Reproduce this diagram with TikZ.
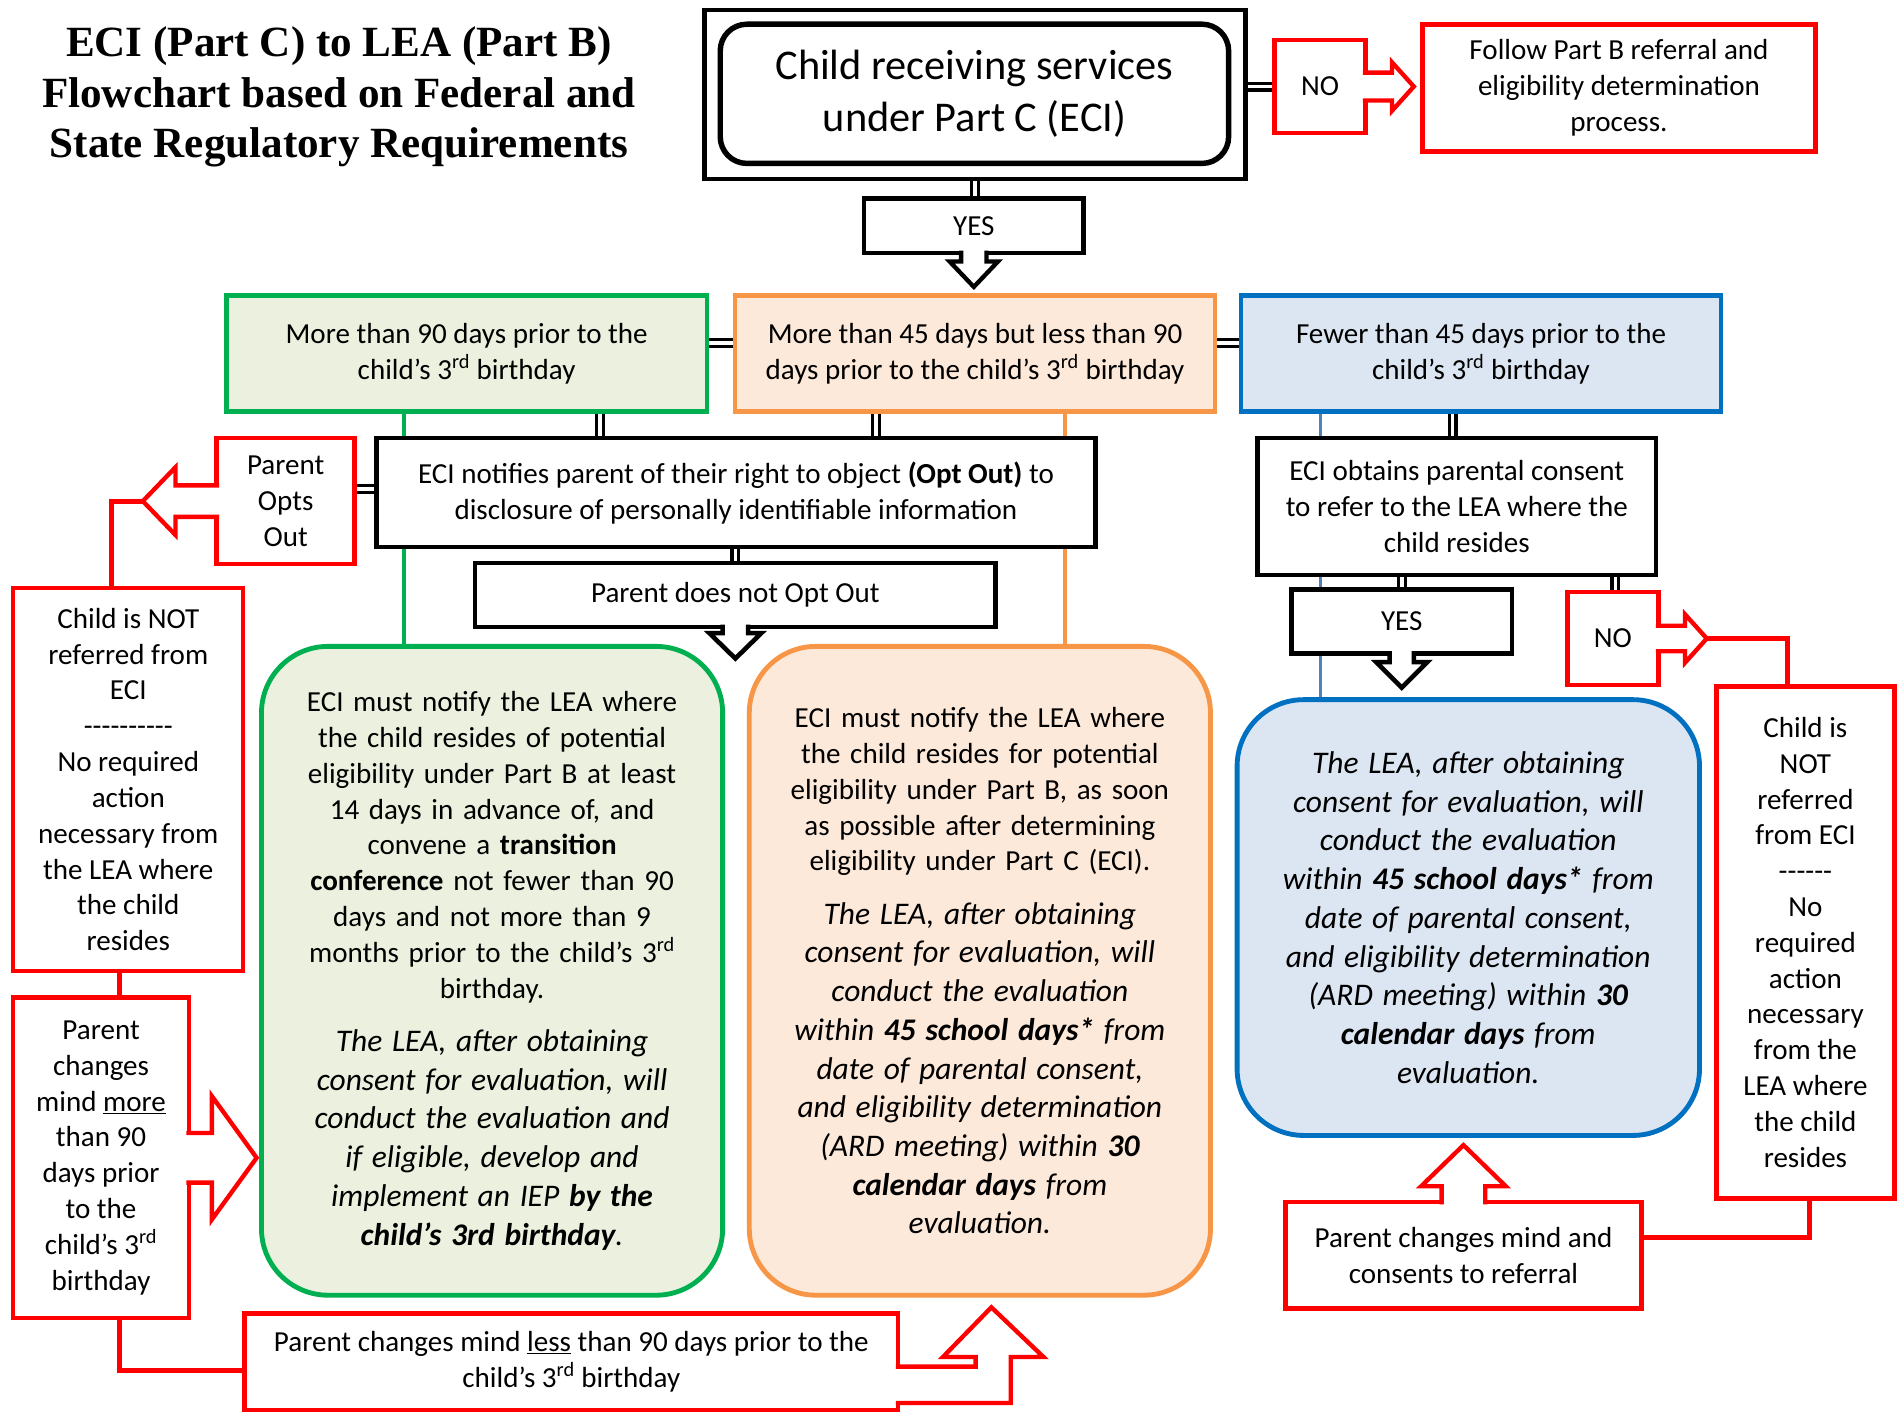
\documentclass[tikz,border=0pt]{standalone}
\usepackage{fontspec}
\setmainfont{Carlito}
\newfontfamily\titlefont{Liberation Serif}
\usetikzlibrary{calc,backgrounds}
\definecolor{gfill}{RGB}{235,241,222}
\definecolor{gline}{RGB}{0,176,80}
\definecolor{ofill}{RGB}{253,233,217}
\definecolor{oline}{RGB}{247,150,70}
\definecolor{bfill}{RGB}{220,230,242}
\definecolor{bline}{RGB}{0,112,192}
\definecolor{bconn}{RGB}{79,129,189}
\definecolor{rline}{RGB}{255,0,0}
\newcommand{\hyph}{\mbox{-}}
\begin{document}
\begin{tikzpicture}[x=1pt,y=-1pt,
  base/.style={inner sep=0pt, outer sep=0pt, align=center, font=\fontsize{24}{29.6}\selectfont, line join=miter},
  rbox/.style={base, draw=rline, line width=3.6pt, fill=white},
  kbox/.style={base, draw=black, line width=3.8pt, fill=white},
  tier/.style={base, line width=3.6pt, minimum width=397pt, minimum height=96pt},
  rnd/.style={base, line width=4pt, rounded corners=55pt, text width=370pt},
  dbl/.style={draw=black, line width=2.6pt, double=white, double distance=3pt},
  rcon/.style={draw=rline, line width=4pt},
  arr/.style={draw=rline, line width=3.6pt, fill=white, line join=miter},
  karr/.style={draw=black, line width=3.8pt, fill=white, line join=miter}
]
\useasboundingbox (0,0) rectangle (1568,1167);

% title
\node[font=\titlefont\bfseries\fontsize{35.6}{42}\selectfont, align=center, inner sep=0pt] (title) at (280,80)
  {ECI (Part C) to LEA (Part B)\\Flowchart based on Federal and\\State Regulatory Requirements};

% top
\node[draw=black, line width=3.5pt, fill=white, minimum width=447pt, minimum height=140pt, inner sep=0pt, outer sep=0pt] (topouter) at (805.5,78) {};
\node[draw=black, line width=4.5pt, rounded corners=22pt, minimum width=420pt, minimum height=115pt, inner sep=0pt, outer sep=0pt, align=center, font=\fontsize{35}{43}\selectfont] (top) at (805,77.5) {Child receiving services\\under Part C (ECI)};

% NO (top)
\node[rbox, minimum width=75pt, minimum height=77pt] (no1) at (1090.5,71.5) {NO};
\draw[arr] ($(no1.east)+(-2,-11.5)$) -- ($(no1.east)+(22,-11.5)$) -- ($(no1.east)+(22,-20)$) -- ($(no1.east)+(40,0)$) -- ($(no1.east)+(22,20)$) -- ($(no1.east)+(22,11.5)$) -- ($(no1.east)+(-2,11.5)$);

\node[rbox, line width=4pt, minimum width=325pt, minimum height=105pt] (follow) at (1337.5,72.5) {Follow Part B referral and\\eligibility determination\\process.};

% YES (top)
\node[kbox, line width=3.6pt, minimum width=181pt, minimum height=45pt] (yes1) at (804.5,186.5) {YES};
\draw[karr, line width=3.6pt] ($(yes1.south)+(-10.5,-2)$) -- ($(yes1.south)+(-10.5,7)$) -- ($(yes1.south)+(-20,7)$) -- ($(yes1.south)+(0,28)$) -- ($(yes1.south)+(20,7)$) -- ($(yes1.south)+(10.5,7)$) -- ($(yes1.south)+(10.5,-2)$);

% tiers
\node[tier, draw=gline, fill=gfill] (gt) at (385.5,292) {More than 90 days prior to the\\child’s 3\textsuperscript{rd} birthday};
\node[tier, draw=oline, fill=ofill] (ot) at (805.5,292) {More than 45 days but less than 90\\days prior to the child’s 3\textsuperscript{rd} birthday};
\node[tier, draw=bline, fill=bfill] (bt) at (1223.5,292) {Fewer than 45 days prior to the\\child’s 3\textsuperscript{rd} birthday};

% notify
\node[kbox, minimum width=594pt, minimum height=90pt] (notify) at (608,407) {ECI notifies parent of their right to object \textbf{(Opt Out)} to\\disclosure of personally identifiable information};

% opts out
\node[rbox, minimum width=114pt, minimum height=104pt] (optsout) at (236,414) {Parent\\Opts\\Out};
\draw[arr] ($(optsout.west)+(2,-13)$) -- ($(optsout.west)+(-34,-13)$) -- ($(optsout.west)+(-34,-28)$) -- ($(optsout.west)+(-61,0)$) coordinate (optip) -- ($(optsout.west)+(-34,28)$) -- ($(optsout.west)+(-34,13)$) -- ($(optsout.west)+(2,13)$);

% not referred (left)
\node[rbox, minimum width=190pt, minimum height=316pt] (nrl) at (106,644) {Child is NOT\\referred from\\ECI\\\hyph\hyph\hyph\hyph\hyph\hyph\hyph\hyph\hyph\hyph\\No required\\action\\necessary from\\the LEA where\\the child\\resides};

% more
\node[rbox, minimum width=145pt, minimum height=265pt] (more) at (83.5,956.5) {Parent\\changes\\mind \underline{more}\\than 90\\days prior\\to the\\child’s 3\textsuperscript{rd}\\birthday};
\draw[arr] ($(more.east)+(-2,-20.5)$) -- ($(more.east)+(19,-20.5)$) -- ($(more.east)+(19,-51)$) -- ($(more.east)+(56,0)$) -- ($(more.east)+(19,51)$) -- ($(more.east)+(19,20.5)$) -- ($(more.east)+(-2,20.5)$);

% less
\node[rbox, minimum width=540pt, minimum height=80pt] (less) at (472,1125) {Parent changes mind \underline{less} than 90 days prior to the\\child’s 3\textsuperscript{rd} birthday};
\draw[arr] ($(less.east)+(-2,4)$) -- ($(less.east)+(64,4)$) -- ($(less.east)+(64,-4)$) -- ($(less.east)+(37,-4)$) -- ($(less.east)+(77,-45)$) -- ($(less.east)+(120,-4)$) -- ($(less.east)+(93,-4)$) -- ($(less.east)+(93,34)$) -- ($(less.east)+(-2,34)$);

% parent does not opt out
\node[kbox, minimum width=430pt, minimum height=53pt] (notopt) at (607.5,491.5) {Parent does not Opt Out};
\draw[karr] ($(notopt.south)+(-10.5,-2)$) -- ($(notopt.south)+(-10.5,5)$) -- ($(notopt.south)+(-21.5,5)$) -- ($(notopt.south)+(0,26)$) -- ($(notopt.south)+(21.5,5)$) -- ($(notopt.south)+(10.5,5)$) -- ($(notopt.south)+(10.5,-2)$);

% obtains
\node[kbox, minimum width=329pt, minimum height=113pt] (obtains) at (1203.5,418.5) {ECI obtains parental consent\\to refer to the LEA where the\\child resides};

% YES (right)
\node[kbox, minimum width=182pt, minimum height=53pt] (yes2) at (1158,513.5) {YES};
\draw[karr] ($(yes2.south)+(-10,-2)$) -- ($(yes2.south)+(-10,7)$) -- ($(yes2.south)+(-21,7)$) -- ($(yes2.south)+(0,28)$) -- ($(yes2.south)+(21,7)$) -- ($(yes2.south)+(10,7)$) -- ($(yes2.south)+(10,-2)$);

% NO (right)
\node[rbox, minimum width=75pt, minimum height=77pt] (no2) at (1332.5,527.5) {NO};
\draw[arr] ($(no2.east)+(-2,-10.5)$) -- ($(no2.east)+(22,-10.5)$) -- ($(no2.east)+(22,-20)$) -- ($(no2.east)+(40,0)$) coordinate (no2tip) -- ($(no2.east)+(22,20)$) -- ($(no2.east)+(22,10.5)$) -- ($(no2.east)+(-2,10.5)$);

% not referred (right)
\node[rbox, minimum width=147pt, minimum height=423pt] (nrr) at (1491.5,778.5) {Child is\\NOT\\referred\\from ECI\\\hyph\hyph\hyph\hyph\hyph\hyph\\No\\required\\action\\necessary\\from the\\LEA where\\the child\\resides};

% consents
\node[rbox, minimum width=294pt, minimum height=88pt] (consents) at (1209,1037) {Parent changes mind and\\consents to referral};
\draw[arr] ($(consents.north)+(-18,2)$) -- ($(consents.north)+(-18,-13)$) -- ($(consents.north)+(-35,-13)$) -- ($(consents.north)+(0,-47)$) -- ($(consents.north)+(35,-13)$) -- ($(consents.north)+(18,-13)$) -- ($(consents.north)+(18,2)$);

% rounded boxes
\node[rnd, draw=gline, fill=gfill, minimum width=381pt, minimum height=536pt] (grnd) at (406.5,802)
 {ECI must notify the LEA where\\the child resides of potential\\eligibility under Part B at least\\14 days in advance of, and\\convene a \textbf{transition}\\\textbf{conference} not fewer than 90\\days and not more than 9\\months prior to the child’s 3\textsuperscript{rd}\\birthday.\par\vspace{12pt}{\fontsize{26}{32}\selectfont\itshape The LEA, after obtaining\\consent for evaluation, will\\conduct the evaluation and\\if eligible, develop and\\implement an IEP \textbf{by the}\\\textbf{child’s 3rd birthday}.\par}};
\node[rnd, draw=oline, fill=ofill, minimum width=381pt, minimum height=536pt] (ornd) at (809.5,802)
 {ECI must notify the LEA where\\the child resides for potential\\eligibility under Part B, as soon\\as possible after determining\\eligibility under Part C (ECI).\par\vspace{12pt}{\fontsize{26}{32}\selectfont\itshape The LEA, after obtaining\\consent for evaluation, will\\conduct the evaluation\\within \textbf{45 school days*} from\\date of parental consent,\\and eligibility determination\\(ARD meeting) within \textbf{30}\\\textbf{calendar days} from\\evaluation.\par}};
\node[rnd, draw=bline, fill=bfill, minimum width=382pt, minimum height=360pt] (brnd) at (1213,758)
 {{\fontsize{26}{32}\selectfont\itshape The LEA, after obtaining\\consent for evaluation, will\\conduct the evaluation\\within \textbf{45 school days*} from\\date of parental consent,\\and eligibility determination\\(ARD meeting) within \textbf{30}\\\textbf{calendar days} from\\evaluation.\par}};

\begin{scope}[on background layer]
\fill[white] (0,0) rectangle (1568,1167);
% colored verticals
\draw[gline, line width=3pt] ([xshift=-51.5pt]gt.south) -- ([xshift=-51.5pt]gt.south |- grnd.north);
\draw[oline, line width=3pt] ([xshift=74.5pt]ot.south) -- ([xshift=74.5pt]ot.south |- ornd.north);
\draw[bconn, line width=3pt] ([xshift=-132.5pt]bt.south) -- ([xshift=-132.5pt]bt.south |- brnd.north);
% double connectors
\draw[dbl] (topouter.east |- no1.west) -- (no1.west);
\draw[dbl] (topouter.south) -- (topouter.south |- yes1.north);
\draw[dbl] ([yshift=8.5pt]gt.east) -- ([yshift=8.5pt]ot.west);
\draw[dbl] ([yshift=8.5pt]ot.east) -- ([yshift=8.5pt]bt.west);
\draw[dbl] ([xshift=110pt]gt.south) -- ([xshift=110pt]gt.south |- notify.north);
\draw[dbl] ([xshift=-82pt]ot.south) -- ([xshift=-82pt]ot.south |- notify.north);
\draw[dbl] ([xshift=-23.5pt]bt.south) -- ([xshift=-23.5pt]bt.south |- obtains.north);
\draw[dbl] ([yshift=3pt]notify.west) -- ([yshift=3pt]notify.west -| optsout.east);
\draw[dbl] (notify.south -| notopt.north) -- (notopt.north);
\draw[dbl] (obtains.south -| yes2.north) -- (yes2.north);
\draw[dbl] ([xshift=2pt]obtains.south -| no2.north) -- ([xshift=2pt]no2.north);
% red connectors
\draw[rcon] (optip) -| ([xshift=-14pt]nrl.north);
\draw[rcon] ([xshift=-7pt]nrl.south) -- ([xshift=-7pt]nrl.south |- more.north);
\draw[rcon] ([xshift=15.5pt]more.south) |- ([yshift=-7pt]less.west);
\draw[rcon] (no2tip) -| ([xshift=-14.5pt]nrr.north);
\draw[rcon] ([xshift=3.5pt]nrr.south) |- ([yshift=15pt]consents.east);
\end{scope}
\end{tikzpicture}
\end{document}
